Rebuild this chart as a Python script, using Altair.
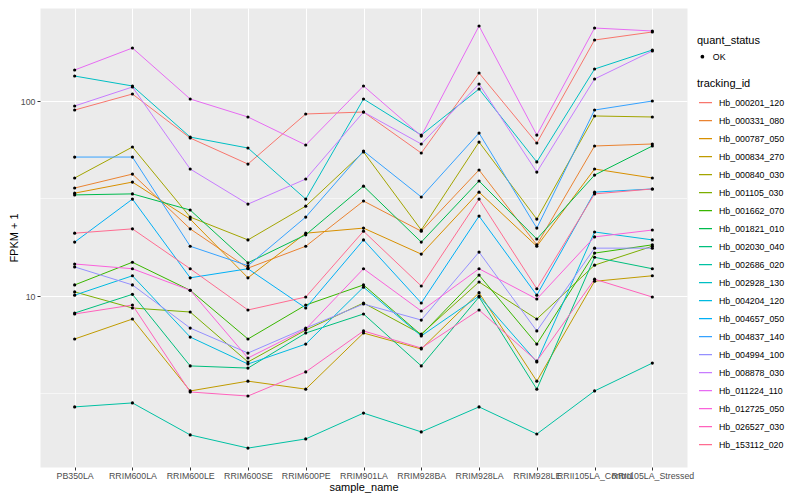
import altair as alt
import pandas as pd

samples = ["PB350LA", "RRIM600LA", "RRIM600LE", "RRIM600SE", "RRIM600PE",
           "RRIM901LA", "RRIM928BA", "RRIM928LA", "RRIM928LE",
           "RRII105LA_Control", "RRII105LA_Stressed"]

tracking_ids = ["Hb_000201_120", "Hb_000331_080", "Hb_000787_050", "Hb_000834_270",
                "Hb_000840_030", "Hb_001105_030", "Hb_001662_070", "Hb_001821_010",
                "Hb_002030_040", "Hb_002686_020", "Hb_002928_130", "Hb_004204_120",
                "Hb_004657_050", "Hb_004837_140", "Hb_004994_100", "Hb_008878_030",
                "Hb_011224_110", "Hb_012725_050", "Hb_026527_030", "Hb_153112_020"]

palette = ["#F8766D", "#EA8331", "#D89000", "#C09B00", "#A3A500", "#7CAE00",
           "#39B600", "#00BB4E", "#00BF7D", "#00C1A3", "#00BFC4", "#00BAE0",
           "#00B0F6", "#35A2FF", "#9590FF", "#C77CFF", "#E76BF3", "#FA62DB",
           "#FF62BC", "#FF6C91"]

# FPKM + 1 per sample (same order as samples)
hb_000201_120 = [89.9, 108.6, 64.6, 47.5, 85.8, 87.8, 54.1, 139.2, 60.9, 205.5, 225.9]
hb_000331_080 = [35.8, 42.2, 22.1, 13.9, 18.0, 30.7, 21.5, 44.3, 18.3, 58.8, 60.2]
hb_000787_050 = [33.7, 38.4, 24.8, 12.4, 21.0, 22.3, 16.4, 34.1, 18.0, 44.8, 40.3]
hb_000834_270 = [6.02, 7.62, 3.26, 3.66, 3.33, 6.46, 5.35, 10.4, 3.66, 11.9, 12.7]
hb_000840_030 = [40.3, 58.1, 25.4, 19.4, 28.9, 54.8, 21.8, 61.6, 24.8, 83.8, 82.8]
hb_001105_030 = [10.5, 8.68, 8.28, 4.59, 6.69, 9.21, 6.38, 11.8, 7.62, 14.4, 18.0]
hb_001662_070 = [11.4, 14.9, 10.7, 6.02, 8.99, 11.4, 6.31, 12.8, 5.67, 16.6, 18.3]
hb_001821_010 = [33.0, 33.4, 27.6, 14.8, 20.6, 36.6, 18.9, 38.9, 19.6, 41.7, 58.8]
hb_002030_040 = [8.18, 10.2, 4.38, 4.27, 6.46, 8.09, 4.38, 9.88, 3.33, 15.8, 13.8]
hb_002686_020 = [2.70, 2.83, 1.94, 1.66, 1.85, 2.51, 2.01, 2.70, 1.96, 3.26, 4.53]
hb_002928_130 = [134.3, 119.4, 65.3, 57.4, 31.4, 102.4, 66.9, 115.2, 48.7, 145.9, 182.6]
hb_004204_120 = [10.1, 12.7, 6.16, 4.48, 5.67, 11.1, 6.24, 10.0, 4.59, 21.3, 19.4]
hb_004657_050 = [18.9, 31.4, 12.4, 13.8, 8.68, 19.4, 9.21, 25.7, 10.1, 34.1, 35.4]
hb_004837_140 = [51.6, 51.6, 18.0, 14.3, 25.4, 55.4, 32.2, 68.5, 22.3, 89.9, 100.0]
hb_004994_100 = [14.1, 11.4, 6.85, 5.10, 6.85, 9.10, 7.53, 16.8, 6.62, 17.6, 17.6]
hb_008878_030 = [94.3, 118.0, 44.8, 29.6, 39.8, 87.8, 60.2, 122.2, 43.2, 129.7, 180.5]
hb_011224_110 = [144.2, 187.0, 102.4, 82.8, 59.5, 119.4, 66.1, 242.4, 66.9, 236.8, 228.6]
hb_012725_050 = [14.6, 13.8, 10.7, 4.81, 6.77, 13.8, 8.38, 13.8, 9.65, 20.1, 21.8]
hb_026527_030 = [8.09, 8.99, 3.22, 3.07, 4.08, 6.62, 5.41, 8.48, 4.64, 12.2, 9.88]
hb_153112_020 = [21.0, 22.1, 13.8, 8.48, 9.88, 21.5, 11.25, 31.4, 10.9, 33.4, 35.4]

series_values = [hb_000201_120, hb_000331_080, hb_000787_050, hb_000834_270,
                 hb_000840_030, hb_001105_030, hb_001662_070, hb_001821_010,
                 hb_002030_040, hb_002686_020, hb_002928_130, hb_004204_120,
                 hb_004657_050, hb_004837_140, hb_004994_100, hb_008878_030,
                 hb_011224_110, hb_012725_050, hb_026527_030, hb_153112_020]

minor_breaks = [3.1623, 31.623]
major_breaks = [10, 100]

rows = []
for tid, vals in zip(tracking_ids, series_values):
    for s, v in zip(samples, vals):
        rows.append({"sample_name": s, "tracking_id": tid, "fpkm": v, "quant_status": "OK"})
df = pd.DataFrame(rows)
minor_df = pd.DataFrame({"fpkm": minor_breaks})

FONT = "Liberation Sans"
yscale = alt.Scale(type="log", domain=[1.328, 299.9], nice=False, zero=False)
yaxis = alt.Axis(title="FPKM + 1", values=major_breaks, format="d",
                 grid=True, labelPadding=2, titlePadding=1)
xenc = alt.X("sample_name:N", sort=samples,
             scale=alt.Scale(type="point", padding=0.6),
             axis=alt.Axis(title="sample_name", labelAngle=0, labelOverlap=False,
                           grid=True, labelPadding=1, titlePadding=2))
yenc = alt.Y("fpkm:Q", scale=yscale, axis=yaxis)

minor = alt.Chart(minor_df).mark_rule(color="white", strokeWidth=0.55).encode(
    y=yenc
)

lines = alt.Chart(df).mark_line(strokeWidth=1).encode(
    x=xenc,
    y=yenc,
    color=alt.Color("tracking_id:N",
                    scale=alt.Scale(domain=tracking_ids, range=palette),
                    legend=alt.Legend(title="tracking_id", orient="none",
                                      legendX=657, legendY=70,
                                      symbolType="stroke", symbolSize=169,
                                      symbolStrokeWidth=1.1, clipHeight=17.3,
                                      rowPadding=0, titlePadding=5,
                                      labelOffset=6, symbolOffset=1)),
    detail="tracking_id:N",
)

points = alt.Chart(df).mark_point(filled=True, size=10, color="black", opacity=1).encode(
    x=xenc,
    y=yenc,
    shape=alt.Shape("quant_status:N", scale=alt.Scale(range=["circle"]),
                    legend=alt.Legend(title="quant_status", orient="none",
                                      legendX=657, legendY=27,
                                      symbolFillColor="black", symbolStrokeColor="black",
                                      symbolSize=14, clipHeight=17.3, titlePadding=2,
                                      labelOffset=6, symbolOffset=1)),
)

chart = alt.layer(minor, lines, points).properties(
    width=647, height=459,
    autosize=alt.AutoSizeParams(type="none"),
    padding={"left": 32, "top": 0, "right": 105, "bottom": 28},
).configure_view(
    fill="#EBEBEB", stroke="transparent"
).configure_axis(
    labelFont=FONT, titleFont=FONT, labelFontSize=8.8, labelColor="#4D4D4D",
    titleFontSize=11, titleColor="black", titleFontWeight="normal",
    tickColor="#333333", tickSize=3, domain=False,
    gridColor="white", gridWidth=1.07,
).configure_legend(
    labelFont=FONT, titleFont=FONT, labelFontSize=8.8, labelColor="black",
    titleFontSize=11, titleColor="black", titleFontWeight="normal", padding=0,
)

chart.save("out.html", embed_options={"renderer": "svg", "actions": False})
